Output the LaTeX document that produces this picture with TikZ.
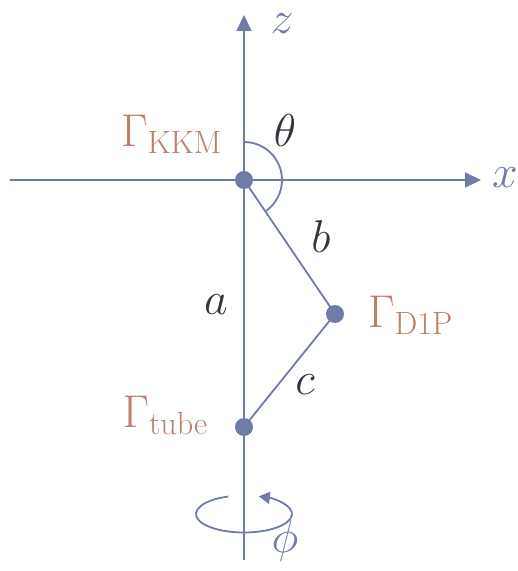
\RequirePackage{fix-cm}
\documentclass[tikz,border=0pt]{standalone}
\usetikzlibrary{arrows.meta}
\definecolor{axc}{HTML}{6F7BA9}
\definecolor{gmc}{HTML}{B9806A}
\definecolor{dkc}{HTML}{35353F}
\begin{document}
\begin{tikzpicture}[x=1pt,y=1pt,
  ln/.style={draw=axc,line width=1.8pt},
  axarrow/.style={ln,-{Triangle[length=16pt,width=15pt]}},
  dot/.style={circle,fill=axc,inner sep=0pt,minimum size=18pt},
  gam/.style={text=gmc,inner sep=0pt,font=\fontsize{46}{50}\selectfont},
  var/.style={text=dkc,inner sep=0pt,anchor=base,font=\fontsize{46}{50}\selectfont},
  axl/.style={text=axc,inner sep=0pt,anchor=base,font=\fontsize{46}{50}\selectfont}]
\useasboundingbox (0,0) rectangle (518,571);
% points
\coordinate (zb) at (244,11);
\coordinate (zt) at (244,556);
\coordinate (xl) at (10,391);
\coordinate (xr) at (481,391);
\node[dot] (kkm) at (244,391) {};
\node[dot] (d1p) at (335,257) {};
\node[dot] (tube) at (244,144) {};
% axes
\draw[axarrow] (zb) -- (zt);
\draw[axarrow] (xl) -- (xr);
% segments
\draw[ln] (kkm.center) -- (d1p.center);
\draw[ln] (d1p.center) -- (tube.center);
% theta arc
\draw[ln] (kkm.center) ++(90:38) arc[start angle=90,end angle=-54,radius=38];
% rotation arrow
\coordinate (rc) at (244,57);
\draw[ln,-{Triangle[length=11pt,width=12pt]}] (rc) ++(109:48 and 18.5)
  arc[start angle=109,end angle=432,x radius=48,y radius=18.5];
% labels
\node[axl] (lz) at (282,537) {$z$};
\node[axl] (lx) at (505,383) {$x$};
\node[axl] (lphi) at (285,19) {$\phi$};
\node[var] (lth) at (285,424) {$\theta$};
\node[var] (lb) at (321,318) {$b$};
\node[var] (la) at (216,256) {$a$};
\node[var] (lc) at (305,176) {$c$};
\node[gam,anchor=base east] (gk) at (222,424) {$\Gamma_{\mathrm{KKM}}$};
\node[gam,anchor=base west] (gd) at (368,243) {$\Gamma_{\mathrm{D1P}}$};
\node[gam,anchor=base east] (gt) at (208,143) {$\Gamma_{\mathrm{tube}}$};
\end{tikzpicture}
\end{document}
